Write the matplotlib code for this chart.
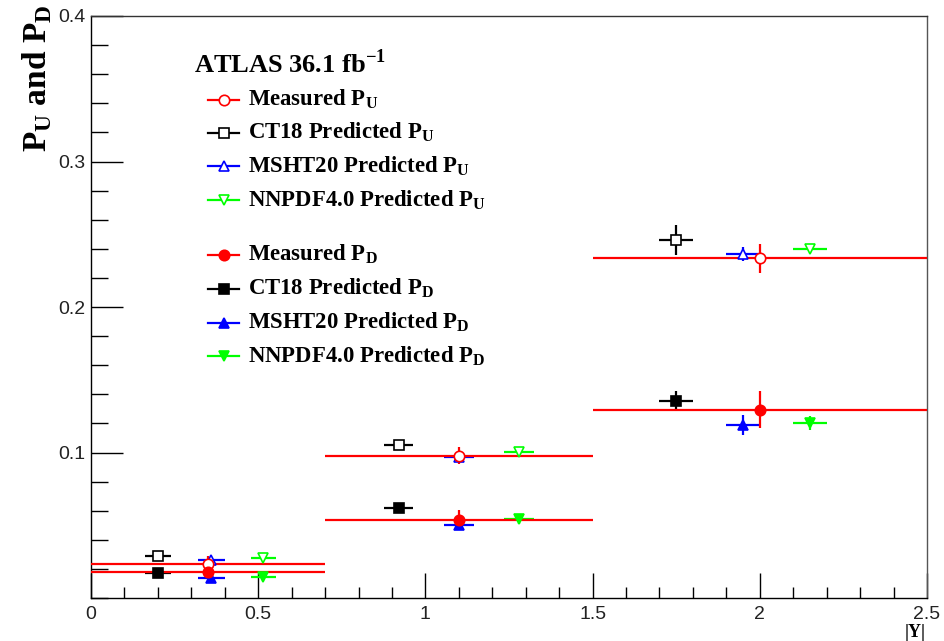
import matplotlib
matplotlib.use("Agg")
import matplotlib.pyplot as plt
from matplotlib.ticker import MultipleLocator, FixedLocator

plt.rcParams["font.family"] = "Liberation Sans"
plt.rcParams["mathtext.fontset"] = "custom"
plt.rcParams["mathtext.rm"] = "Liberation Serif:bold"
plt.rcParams["mathtext.bf"] = "Liberation Serif:bold"

# bins in |Y|
bin_lo = [0.0, 0.7, 1.5]
bin_hi = [0.7, 1.5, 2.5]

# measured
meas_x = [0.35, 1.1, 2.0]
meas_pu = [0.0236, 0.0978, 0.2334]
meas_pu_err = [0.005, 0.0058, 0.0098]
meas_pd = [0.0176, 0.0538, 0.1295]
meas_pd_err = [0.004, 0.0068, 0.013]

# CT18
ct18_x = [0.2, 0.92, 1.75]
ct18_xerr = [0.038, 0.044, 0.05]
ct18_pu = [0.029, 0.105, 0.246]
ct18_pu_err = [0.0015, 0.003, 0.0103]
ct18_pd = [0.0175, 0.0616, 0.1355]
ct18_pd_err = [0.0015, 0.002, 0.007]

# MSHT20
msht_x = [0.36, 1.1, 1.95]
msht_xerr = [0.04, 0.044, 0.05]
msht_pu = [0.0258, 0.0967, 0.2363]
msht_pu_err = [0.002, 0.003, 0.005]
msht_pd = [0.0135, 0.050, 0.119]
msht_pd_err = [0.002, 0.003, 0.007]

# NNPDF4.0
nnpdf_x = [0.515, 1.28, 2.15]
nnpdf_xerr = [0.038, 0.044, 0.05]
nnpdf_pu = [0.0277, 0.1006, 0.2398]
nnpdf_pu_err = [0.0015, 0.0015, 0.0015]
nnpdf_pd = [0.0147, 0.054, 0.1204]
nnpdf_pd_err = [0.0015, 0.003, 0.005]

xticks = [0, 0.5, 1, 1.5, 2, 2.5]
xticklabels = ["0", "0.5", "1", "1.5", "2", "2.5"]
yticks = [0.1, 0.2, 0.3, 0.4]
yticklabels = ["0.1", "0.2", "0.3", "0.4"]

RED, BLACK, BLUE, GREEN = "#ff0000", "#000000", "#0000ff", "#00ff00"

fig = plt.figure(figsize=(9.44, 6.41), dpi=100)
ax = fig.add_axes([91/944, 1-598/641, (927-91)/944, (598-16)/641])

meas_xerr = [[x - lo for x, lo in zip(meas_x, bin_lo)],
             [hi - x for x, hi in zip(meas_x, bin_hi)]]

series = [
    (ct18_x, ct18_xerr, ct18_pu, ct18_pu_err, BLACK, "s", True),
    (ct18_x, ct18_xerr, ct18_pd, ct18_pd_err, BLACK, "s", False),
    (msht_x, msht_xerr, msht_pu, msht_pu_err, BLUE, "^", True),
    (msht_x, msht_xerr, msht_pd, msht_pd_err, BLUE, "^", False),
    (nnpdf_x, nnpdf_xerr, nnpdf_pu, nnpdf_pu_err, GREEN, "v", True),
    (nnpdf_x, nnpdf_xerr, nnpdf_pd, nnpdf_pd_err, GREEN, "v", False),
    (meas_x, meas_xerr, meas_pu, meas_pu_err, RED, "o", True),
    (meas_x, meas_xerr, meas_pd, meas_pd_err, RED, "o", False),
]
for x, xe, y, ye, c, m, hollow in series:
    ax.errorbar(x, y, xerr=xe, yerr=ye, fmt=m, color=c, ms=7.5, lw=1.6,
                elinewidth=1.6, capsize=0,
                mfc="white" if hollow else c, mec=c, mew=1.2, zorder=3)

ax.set_xlim(0, 2.5)
ax.set_ylim(0, 0.4)
ax.xaxis.set_major_locator(FixedLocator(xticks))
ax.xaxis.set_minor_locator(MultipleLocator(0.1))
ax.yaxis.set_major_locator(FixedLocator(yticks))
ax.yaxis.set_minor_locator(MultipleLocator(0.02))
ax.set_xticklabels(xticklabels)
ax.set_yticklabels(yticklabels)
ax.tick_params(axis="both", which="both", direction="in", labelsize=14,
               colors="black", labelcolor="#222222", width=1)
ax.tick_params(axis="y", which="major", length=23, pad=4)
ax.tick_params(axis="y", which="minor", length=12)
ax.tick_params(axis="x", which="major", length=18, pad=6)
ax.tick_params(axis="x", which="minor", length=8)
for s in ax.spines.values():
    s.set_linewidth(1)
ax.spines["right"].set_color("#555555")
ax.spines["top"].set_color("#333333")

# legend drawn by hand, ROOT style
ax.text(0.123, 0.918, r"ATLAS 36.1 fb$^{\mathbf{-1}}$", transform=ax.transAxes,
        fontsize=19, family="Liberation Serif", weight="bold", va="center", ha="left")

entries = [
    ("Measured", "U", RED, "o", True),
    ("CT18 Predicted", "U", BLACK, "s", True),
    ("MSHT20 Predicted", "U", BLUE, "^", True),
    ("NNPDF4.0 Predicted", "U", GREEN, "v", True),
    ("Measured", "D", RED, "o", False),
    ("CT18 Predicted", "D", BLACK, "s", False),
    ("MSHT20 Predicted", "D", BLUE, "^", False),
    ("NNPDF4.0 Predicted", "D", GREEN, "v", False),
]
rows_px = [99.5, 132.5, 166, 200, 254.5, 288.5, 322.5, 356]
for (name, sub, c, m, hollow), ypx in zip(entries, rows_px):
    yf = (598 - ypx) / 582
    ax.plot([(208-91)/836, (239-91)/836], [yf, yf], color=c, lw=1.6,
            transform=ax.transAxes, clip_on=False)
    ax.plot([(224-91)/836], [yf], marker=m, color=c, ms=7.5,
            mfc="white" if hollow else c, mec=c, mew=1.2,
            transform=ax.transAxes, clip_on=False)
    ax.text((248-91)/836, yf, name + r" P$_{\mathbf{" + sub + "}}$",
            transform=ax.transAxes, fontsize=16.4, family="Liberation Serif",
            weight="bold", va="center", ha="left")

fig.text(37/944, 1 - 4/641, r"P$_{\mathbf{U}}$ and P$_{\mathbf{D}}$", rotation=90,
         fontsize=24, family="Liberation Serif", weight="bold", ha="center", va="top")
fig.text(915/944, 1 - 624/641, "|Y|", fontsize=13, family="Liberation Serif",
         weight="bold", ha="center", va="top")

fig.savefig("out.png", dpi=100)
